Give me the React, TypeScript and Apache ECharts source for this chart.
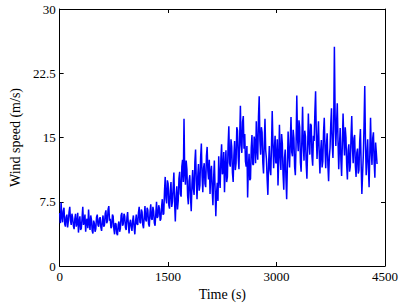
import React, { useEffect, useRef } from "react";
import * as echarts from "echarts";

const timeStep = 10;
const windSpeed = [
  6.2, 5.0, 7.4, 5.8, 5.1, 6.4, 6.8, 4.9, 4.6, 5.7, 6.0, 4.5, 5.2, 6.3, 6.9, 5.3, 4.8, 6.1, 5.6, 4.7,
  4.3, 5.5, 6.1, 4.6, 5.0, 6.2, 3.9, 5.1, 5.8, 4.2, 4.4, 5.6, 6.9, 4.8, 5.1, 6.0, 4.0, 5.3, 5.5, 4.4,
  6.6, 5.0, 4.2, 5.9, 5.4, 4.1, 3.8, 5.3, 5.0, 4.0, 4.3, 5.7, 6.0, 4.8, 4.6, 5.5, 5.7, 4.5, 4.1, 5.2,
  5.9, 4.6, 4.8, 6.1, 6.5, 5.0, 5.2, 6.6, 7.0, 5.3, 5.5, 4.4, 4.6, 6.0, 5.8, 4.3, 3.7, 5.0, 4.9, 3.8,
  3.6, 4.8, 5.2, 4.0, 4.4, 5.9, 6.2, 4.7, 4.9, 6.1, 5.8, 4.5, 4.2, 5.6, 6.3, 4.9, 3.8, 5.0, 5.4, 4.6,
  4.1, 5.3, 5.9, 4.5, 3.7, 5.2, 6.0, 4.9, 4.8, 6.2, 6.9, 5.1, 5.0, 6.6, 6.3, 4.8, 4.4, 5.7, 7.0, 5.4,
  5.2, 6.8, 6.5, 4.9, 4.6, 6.3, 7.2, 5.5, 5.4, 6.9, 6.4, 5.0, 4.7, 6.1, 7.5, 5.6, 5.8, 7.1, 6.7, 5.3,
  5.5, 6.9, 7.8, 6.0, 6.1, 8.7, 10.4, 7.9, 7.3, 10.0, 9.6, 7.1, 6.7, 8.8, 9.8, 6.9, 7.5, 9.2, 10.9, 7.4,
  5.2, 8.0, 9.3, 6.6, 7.6, 10.2, 11.0, 8.4, 8.1, 11.6, 12.4, 9.8, 17.2, 10.8, 9.5, 12.3, 11.3, 8.2, 7.2, 9.9,
  10.6, 8.0, 6.4, 9.5, 11.2, 9.0, 8.3, 12.1, 13.6, 9.9, 7.8, 10.4, 11.9, 8.8, 9.4, 12.7, 14.3, 10.5, 8.6, 11.4,
  12.0, 9.6, 9.2, 12.8, 13.9, 11.1, 10.1, 12.4, 8.4, 10.9, 11.7, 8.9, 7.1, 10.3, 12.3, 9.0, 5.8, 8.5, 9.7, 7.6,
  12.8, 10.2, 9.1, 12.5, 14.2, 10.7, 11.0, 13.3, 8.6, 11.5, 13.5, 9.8, 10.4, 14.1, 16.3, 12.0, 11.6, 14.8, 13.9, 10.9,
  9.8, 12.9, 14.6, 11.2, 12.0, 16.2, 15.8, 12.6, 11.3, 15.0, 18.7, 14.1, 13.2, 16.8, 17.5, 13.7, 15.4, 12.2, 11.6, 14.0,
  8.0, 11.4, 13.1, 10.0, 10.2, 13.8, 15.3, 11.9, 11.8, 15.1, 14.5, 12.0, 16.9, 13.6, 12.4, 17.4, 19.8, 14.6, 13.0, 16.2,
  15.6, 12.1, 10.8, 14.3, 17.2, 13.5, 12.5, 10.1, 8.3, 11.9, 14.0, 11.2, 10.6, 13.9, 18.1, 14.4, 11.4, 13.6, 15.2, 12.0,
  12.1, 14.8, 9.4, 12.2, 16.5, 13.0, 11.2, 15.4, 14.3, 10.7, 8.9, 12.6, 13.6, 10.2, 7.8, 11.8, 15.7, 13.1, 11.5, 14.6,
  17.4, 13.3, 12.8, 15.9, 14.9, 11.6, 10.6, 14.2, 19.9, 15.0, 13.4, 17.0, 16.2, 12.1, 11.0, 14.7, 18.6, 14.1, 12.3, 15.8,
  15.1, 11.9, 10.2, 13.7, 17.8, 14.5, 13.0, 16.6, 16.4, 12.8, 11.7, 15.2, 14.6, 17.9, 20.4, 15.3, 12.5, 14.9, 16.9, 13.2,
  10.8, 13.4, 14.7, 11.5, 12.2, 15.6, 17.3, 13.8, 11.4, 14.1, 15.5, 11.8, 9.9, 12.7, 13.8, 16.6, 18.4, 14.2, 12.6, 16.0,
  25.6, 17.8, 14.0, 16.5, 19.0, 14.6, 11.3, 13.9, 16.1, 12.4, 10.5, 14.3, 17.8, 14.9, 12.9, 16.2, 15.0, 11.8, 10.1, 13.5,
  14.2, 11.0, 11.6, 15.1, 17.5, 13.8, 12.0, 14.9, 15.3, 11.7, 10.4, 13.2, 13.7, 10.8, 11.2, 14.5, 16.0, 11.9, 8.4, 10.7,
  12.9, 16.4, 21.0, 14.3, 10.6, 12.8, 14.8, 11.5, 9.2, 13.0, 17.3, 13.4, 11.8, 14.9, 15.6, 12.1, 10.3, 14.4, 13.2, 11.9,
];
const xTicks = [0, 1500, 3000, 4500];
const yTicks = [0, 7.5, 15, 22.5, 30];

export default function App() {
  const ref = useRef<HTMLDivElement>(null);
  useEffect(() => {
    if (!ref.current) return;
    const chart = echarts.init(ref.current, null, { renderer: "svg" });
    const font = "Liberation Serif";
    const data = windSpeed.map((v, i) => [i * timeStep, v]);
    const axisCommon = {
      axisLine: { show: true, onZero: false, lineStyle: { color: "#000", width: 1 } },
      axisTick: { show: true, inside: true, length: 4, lineStyle: { color: "#000" } },
      splitLine: { show: false },
    };
    const xBase = {
      type: "value",
      min: xTicks[0],
      max: xTicks[xTicks.length - 1],
      interval: xTicks[1] - xTicks[0],
      ...axisCommon,
    };
    const yBase = {
      type: "value",
      min: yTicks[0],
      max: yTicks[yTicks.length - 1],
      interval: yTicks[1] - yTicks[0],
      ...axisCommon,
    };
    chart.setOption({
      animation: false,
      backgroundColor: "#fff",
      grid: { left: 56, right: 21, top: 9, bottom: 41 },
      xAxis: [
        {
          ...xBase,
          position: "bottom",
          axisLabel: {
            color: "#000",
            fontFamily: font,
            fontSize: 13,
            margin: 4,
            formatter: (v: number) => String(v),
          },
          name: "Time (s)",
          nameLocation: "middle",
          nameGap: 21,
          nameTextStyle: { color: "#000", fontFamily: font, fontSize: 14 },
        },
        { ...xBase, position: "top", axisLabel: { show: false } },
      ],
      yAxis: [
        {
          ...yBase,
          position: "left",
          axisLabel: {
            color: "#000",
            fontFamily: font,
            fontSize: 13,
            margin: 4,
            formatter: (v: number) => String(v),
          },
          name: "Wind speed (m/s)",
          nameLocation: "middle",
          nameGap: 34,
          nameTextStyle: { color: "#000", fontFamily: font, fontSize: 14 },
        },
        { ...yBase, position: "right", axisLabel: { show: false } },
      ],
      series: [
        {
          type: "line",
          data,
          showSymbol: false,
          symbol: "none",
          sampling: undefined,
          lineStyle: { color: "#0000ff", width: 1.5 },
          xAxisIndex: 0,
          yAxisIndex: 0,
        },
      ],
    });
    return () => chart.dispose();
  }, []);
  return <div ref={ref} style={{ width: 406, height: 307, position: "absolute", left: 0, top: 0 }} />;
}
